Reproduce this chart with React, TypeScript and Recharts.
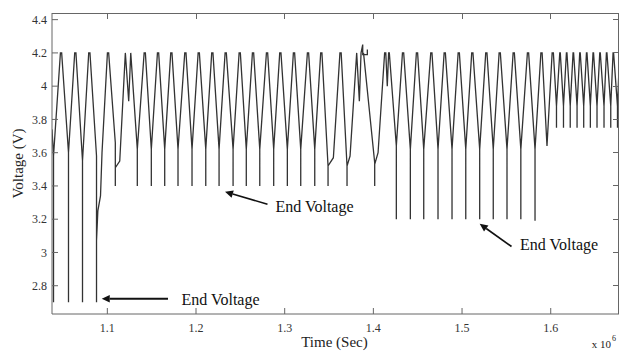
import { Line, LineChart, ReferenceLine, XAxis, YAxis } from 'recharts';

const FONT = '"Liberation Serif", "Times New Roman", serif';

// time axis is in units of 1e6 s
const startPoint = { t: 1.0376, v: 3.74 };
const chargeLimit = 4.2;

// end-of-discharge drops, one per cycle
const spikeTimes = [
  1.0393, 1.0562, 1.072, 1.0878, 1.109, 1.1338, 1.1496, 1.1647, 1.1797, 1.1955, 1.211,
  1.226, 1.2418, 1.2567, 1.2719, 1.2876, 1.303, 1.3181, 1.3339, 1.3489, 1.3703, 1.4015,
  1.4259, 1.4417, 1.4568, 1.4729, 1.4887, 1.5042, 1.5199, 1.5352, 1.5507, 1.5663, 1.5823,
  1.5958, 1.6065, 1.6144, 1.622, 1.6297, 1.6372, 1.6447, 1.6522, 1.6601, 1.6677, 1.6753,
];
// voltage where the discharge slope ends, just before the drop
const kneeVolts = [
  3.58, 3.6, 3.55, 3.58, 3.66, 3.62, 3.62, 3.62, 3.62, 3.62, 3.62,
  3.62, 3.62, 3.62, 3.62, 3.62, 3.62, 3.62, 3.62, 3.52, 3.52, 3.54,
  3.64, 3.62, 3.62, 3.62, 3.62, 3.62, 3.62, 3.62, 3.62, 3.62, 3.62,
  3.64, 3.88, 3.88, 3.88, 3.88, 3.88, 3.88, 3.88, 3.88, 3.88, 3.88,
];
const endVolts = [
  2.7, 2.7, 2.7, 2.7, 3.4, 3.4, 3.4, 3.4, 3.4, 3.4, 3.4,
  3.4, 3.4, 3.4, 3.4, 3.4, 3.4, 3.4, 3.4, 3.4, 3.4, 3.4,
  3.2, 3.2, 3.2, 3.2, 3.2, 3.2, 3.2, 3.2, 3.2, 3.2, 3.19,
  3.64, 3.75, 3.75, 3.75, 3.75, 3.75, 3.75, 3.75, 3.75, 3.75, 3.75,
];
// top of each recharge (4.2 V)
const peakTimes = [
  1.0478, 1.0639, 1.0797, 1.1008, 1.1203, 1.1422, 1.1572, 1.1722, 1.188, 1.2031, 1.2184,
  1.2335, 1.2493, 1.2643, 1.2801, 1.2951, 1.3105, 1.3263, 1.3413, 1.363, 1.3812, 1.4128,
  1.4335, 1.4492, 1.4654, 1.4805, 1.4963, 1.5116, 1.5274, 1.5425, 1.5583, 1.5744, 1.5896,
  1.6023, 1.6105, 1.618, 1.6255, 1.633, 1.6406, 1.648, 1.6556, 1.6631, 1.6706, 1.678,
];

// irregular recoveries after a drop (cycle index -> [t, v])
const recoverySteps: Record<number, number[][]> = {
  3: [[1.0878, 3.07], [1.0893, 3.25], [1.0923, 3.34], [1.094, 3.6]],
  4: [[1.109, 3.51], [1.114, 3.55]],
  19: [[1.3489, 3.52], [1.3549, 3.57]],
  20: [[1.3703, 3.52], [1.3737, 3.58]],
  21: [[1.4015, 3.53], [1.4053, 3.6]],
};
// irregular tops (cycle index -> [t, v])
const peakShapes: Record<number, number[][]> = {
  4: [[1.1203, 4.2], [1.1241, 3.91], [1.1264, 4.2]],
  20: [
    [1.3812, 4.2], [1.3842, 3.91], [1.3861, 4.2], [1.388, 4.25], [1.388, 4.19],
    [1.3932, 4.19], [1.3932, 4.22], [1.3932, 4.19], [1.3889, 4.19], [1.3889, 4.2],
  ],
  21: [[1.4127, 4.2], [1.414, 4.2], [1.4157, 4.0], [1.4172, 4.2], [1.418, 4.2]],
};

const xTicks = [1.1, 1.2, 1.3, 1.4, 1.5, 1.6];
const yTicks = [2.8, 3, 3.2, 3.4, 3.6, 3.8, 4, 4.2, 4.4];
const xDomain = [1.0376, 1.677];
const yDomain = [2.63, 4.44];

const notes = [
  { tail: [1.1684, 2.722], head: [1.0937, 2.722], dx: 13.5, dy: 1, weight: 2 },
  { tail: [1.2806, 3.29], head: [1.2327, 3.365], dx: 8, dy: 2, weight: 1.6 },
  { tail: [1.5558, 3.036], head: [1.5199, 3.172], dx: 8.5, dy: -1.5, weight: 1.6 },
];

const trace: { t: number; v: number }[] = [startPoint];
spikeTimes.forEach((ts, i) => {
  trace.push({ t: ts, v: kneeVolts[i] }, { t: ts, v: endVolts[i] });
  (recoverySteps[i] ?? [[ts, kneeVolts[i]]]).forEach(([t, v]) => trace.push({ t, v }));
  const hold = i >= 34 ? 0.0003 : 0.0007;
  const top = peakShapes[i] ?? [[peakTimes[i] - hold, chargeLimit], [peakTimes[i] + hold, chargeLimit]];
  top.forEach(([t, v]) => trace.push({ t, v }));
});

const AXIS = '#666';
const W = 620;
const H = 351;
const MARGIN = { top: 13, right: 1, bottom: 0, left: 0 };
const Y_AXIS_W = 52;
const X_AXIS_H = 37;
const plot = {
  left: MARGIN.left + Y_AXIS_W,
  right: W - MARGIN.right,
  top: MARGIN.top,
  bottom: H - MARGIN.bottom - X_AXIS_H,
};
const sx = (t: number) => plot.left + ((t - xDomain[0]) / (xDomain[1] - xDomain[0])) * (plot.right - plot.left);
const sy = (v: number) => plot.bottom - ((v - yDomain[0]) / (yDomain[1] - yDomain[0])) * (plot.bottom - plot.top);

function arrowShape(note: (typeof notes)[number]) {
  return (props: any) => {
    const { x1, y1, x2, y2 } = props;
    const ang = Math.atan2(y2 - y1, x2 - x1);
    const len = 8;
    const half = 3.8;
    const bx = x2 - len * Math.cos(ang);
    const by = y2 - len * Math.sin(ang);
    const px = -Math.sin(ang) * half;
    const py = Math.cos(ang) * half;
    return (
      <g>
        <line x1={x1} y1={y1} x2={bx} y2={by} stroke="#111" strokeWidth={note.weight} />
        <polygon points={`${x2},${y2} ${bx + px},${by + py} ${bx - px},${by - py}`} fill="#111" />
        <text x={x1 + note.dx} y={y1 + note.dy} fontSize={16} fontFamily={FONT} fill="#111" dominantBaseline="central">
          End Voltage
        </text>
      </g>
    );
  };
}

// top / right edges of the box with inward ticks (MATLAB "box on")
function BoxFrame() {
  return (
    <svg width={W} height={H} style={{ position: 'absolute', left: 0, top: 0, pointerEvents: 'none' }}>
      <g stroke={AXIS} strokeWidth={1} fill="none" shapeRendering="crispEdges">
        <polyline points={`${plot.left},${plot.top + 0.5} ${plot.right - 0.5},${plot.top + 0.5} ${plot.right - 0.5},${plot.bottom}`} />
        {xTicks.map((t) => (
          <line key={`t${t}`} x1={sx(t)} x2={sx(t)} y1={plot.top} y2={plot.top + 6} />
        ))}
        {yTicks.map((v) => (
          <line key={`r${v}`} x1={plot.right - 6} x2={plot.right} y1={sy(v)} y2={sy(v)} />
        ))}
      </g>
    </svg>
  );
}

const XTick = (props: any) => (
  <text x={props.x} y={props.y} dy="0.71em" textAnchor="middle" fontSize={12} fontFamily={FONT} fill="#333">
    {props.payload.value}
  </text>
);
const YTick = (props: any) => (
  <text x={props.x} y={props.y} dy="0.35em" textAnchor="end" fontSize={12} fontFamily={FONT} fill="#333">
    {props.payload.value}
  </text>
);

const XTitle = (props: any) => {
  const vb = props.viewBox ?? { x: 52, y: 314, width: 567, height: 37 };
  const cx = vb.x + vb.width / 2 - 1;
  return (
    <g fontFamily={FONT} fill="#222">
      <text x={cx} y={vb.y + 33} fontSize={15} textAnchor="middle">Time (Sec)</text>
      <text x={vb.x + vb.width - 8} y={vb.y + 34} fontSize={11} textAnchor="end">x 10</text>
      <text x={vb.x + vb.width - 7} y={vb.y + 27} fontSize={8}>6</text>
    </g>
  );
};

const YTitle = (props: any) => {
  const vb = props.viewBox ?? { x: 0, y: 13, width: 52, height: 301 };
  const cx = vb.x + 18;
  const cy = vb.y + vb.height / 2;
  return (
    <text x={cx} y={cy} fontSize={15} fontFamily={FONT} fill="#222" textAnchor="middle" dominantBaseline="central" transform={`rotate(-90 ${cx} ${cy})`}>
      Voltage (V)
    </text>
  );
};

export default function App() {
  return (
    <div style={{ position: 'absolute', left: 0, top: 0, width: W, height: H, background: '#fff', fontFamily: FONT }}>
      <LineChart width={W} height={H} data={trace} margin={MARGIN}>
        <XAxis dataKey="t" type="number" domain={xDomain} allowDataOverflow ticks={xTicks} interval={0} tickSize={-6} tickMargin={15} height={X_AXIS_H} stroke={AXIS} tick={<XTick />} label={{ content: XTitle }} />
        <YAxis type="number" domain={yDomain} allowDataOverflow ticks={yTicks} interval={0} tickSize={-6} tickMargin={11} width={Y_AXIS_W} stroke={AXIS} tick={<YTick />} label={{ content: YTitle }} />
        <Line dataKey="v" type="linear" stroke="#333" strokeWidth={1.3} dot={false} activeDot={false} isAnimationActive={false} />
        {notes.map((n, i) => (
          <ReferenceLine key={i} segment={[{ x: n.tail[0], y: n.tail[1] }, { x: n.head[0], y: n.head[1] }]} shape={arrowShape(n)} ifOverflow="visible" />
        ))}
      </LineChart>
      <BoxFrame />
    </div>
  );
}
